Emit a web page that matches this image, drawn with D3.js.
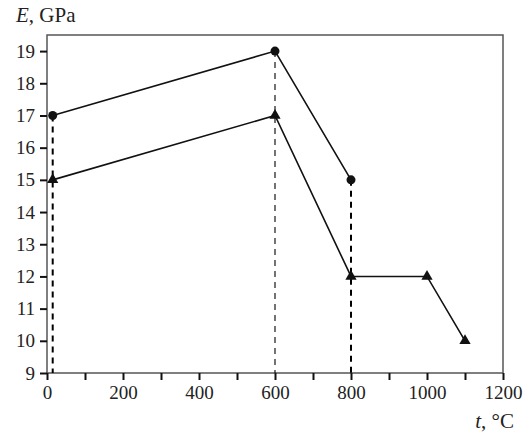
<!DOCTYPE html>
<html>
<head>
<meta charset="utf-8">
<script src="https://cdn.jsdelivr.net/npm/d3@7"></script>
<style>
  body { margin: 0; background: #fff; }
</style>
</head>
<body>
<div class="chart"></div>
<script>
// data
var circleT = [15, 600, 800];
var circleE = [17, 19, 15];
var triT = [15, 600, 800, 1000, 1100];
var triE = [15, 17, 12, 12, 10];
var xTicks = [0, 200, 400, 600, 800, 1000, 1200];
var xMinor = [100, 300, 500, 700, 900, 1100];
var yTicks = [9, 10, 11, 12, 13, 14, 15, 16, 17, 18, 19];

var font = "Liberation Serif";
var width = 525, height = 434;
var margin = {top: 35, left: 47, right: 22, bottom: 61};

var svg = d3.select(".chart").append("svg")
    .attr("width", width)
    .attr("height", height);

var x = d3.scaleLinear().domain([0, 1200]).range([margin.left, width - margin.right]);
var y = d3.scaleLinear().domain([9, 19.5]).range([height - margin.bottom, margin.top]);

// frame
svg.append("rect")
    .attr("x", x(0)).attr("y", y(19.5))
    .attr("width", x(1200) - x(0))
    .attr("height", y(9) - y(19.5))
    .attr("fill", "none")
    .attr("stroke", "#555")
    .attr("stroke-width", 1.5);

// axes
svg.append("g")
    .attr("transform", "translate(0," + y(9) + ")")
    .call(d3.axisBottom(x).tickValues(xTicks).tickSize(7).tickPadding(6).tickFormat(d3.format("d")));
svg.append("g")
    .attr("transform", "translate(0," + y(9) + ")")
    .call(d3.axisBottom(x).tickValues(xMinor).tickSize(7).tickFormat(""));
svg.append("g")
    .attr("transform", "translate(" + x(0) + ",0)")
    .call(d3.axisLeft(y).tickValues(yTicks).tickSize(7).tickPadding(5));

svg.selectAll(".domain").remove();
svg.selectAll("g").attr("font-family", font).attr("font-size", 19);
svg.selectAll(".tick line").attr("stroke", "#111").attr("stroke-width", 2);
svg.selectAll(".tick text").attr("fill", "#222");

// dashed drop lines
var drops = [
  {t: circleT[0], e: circleE[0], w: 2},
  {t: circleT[1], e: circleE[1], w: 1.1},
  {t: circleT[2], e: circleE[2], w: 2}
];
svg.selectAll(".drop")
    .data(drops)
    .enter()
    .append("line")
    .attr("class", "drop")
    .attr("x1", function(d) { return x(d.t); })
    .attr("x2", function(d) { return x(d.t); })
    .attr("y1", function(d) { return y(d.e); })
    .attr("y2", y(9))
    .attr("stroke", "#000")
    .attr("stroke-width", function(d) { return d.w; })
    .attr("stroke-dasharray", "6,5");

var circles = circleT.map(function(t, i) { return [t, circleE[i]]; });
var tris = triT.map(function(t, i) { return [t, triE[i]]; });

var line = d3.line()
    .x(function(d) { return x(d[0]); })
    .y(function(d) { return y(d[1]); });

[circles, tris].forEach(function(s) {
  svg.append("path")
      .attr("d", line(s))
      .attr("fill", "none")
      .attr("stroke", "#111")
      .attr("stroke-width", 1.6);
});

svg.selectAll(".dot")
    .data(circles)
    .enter()
    .append("circle")
    .attr("class", "dot")
    .attr("cx", function(d) { return x(d[0]); })
    .attr("cy", function(d) { return y(d[1]); })
    .attr("r", 4.5)
    .attr("fill", "#111");

svg.selectAll(".tri")
    .data(tris)
    .enter()
    .append("path")
    .attr("class", "tri")
    .attr("transform", function(d) { return "translate(" + x(d[0]) + "," + y(d[1]) + ")"; })
    .attr("d", d3.symbol().type(d3.symbolTriangle).size(55))
    .attr("fill", "#111");

// axis titles
var yl = svg.append("text")
    .attr("x", 16).attr("y", 22)
    .attr("font-family", font)
    .attr("font-size", 21)
    .attr("fill", "#222");
yl.append("tspan").attr("font-style", "italic").text("E");
yl.append("tspan").text(", GPa");

var xl = svg.append("text")
    .attr("x", 514).attr("y", 428)
    .attr("text-anchor", "end")
    .attr("font-family", font)
    .attr("font-size", 21)
    .attr("fill", "#222");
xl.append("tspan").attr("font-style", "italic").text("t");
xl.append("tspan").text(", °C");
</script>
</body>
</html>
